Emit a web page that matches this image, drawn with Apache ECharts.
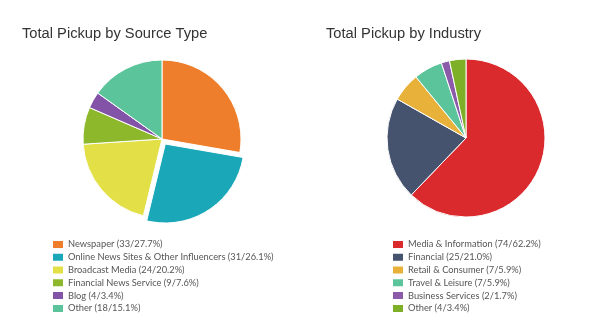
<!DOCTYPE html>
<html><head><meta charset="utf-8">
<script src="https://cdn.jsdelivr.net/npm/echarts@6/dist/echarts.min.js"></script>
<style>html,body{margin:0;padding:0;background:#fff}#c{width:600px;height:325px}</style>
</head><body><div id="c"></div>
<script>
const sourceNames = ["Newspaper","Online News Sites & Other Influencers","Broadcast Media","Financial News Service","Blog","Other"];
const sourceValues = [33,31,24,9,4,18];
const sourceColors = ["#EE7E2B","#1AA8B9","#E3DF47","#8DB82B","#8353A8","#5CC49A"];
const industryNames = ["Media & Information","Financial","Retail & Consumer","Travel & Leisure","Business Services","Other"];
const industryValues = [74,25,7,7,2,4];
const industryColors = ["#DA2A2E","#46536E","#E8B23A","#5CC49A","#8B5BAA","#7DB026"];

function fmtFactory(names, values){
  const total = values.reduce((a,b)=>a+b,0);
  return function(name){
    const i = names.indexOf(name);
    return name + ' (' + values[i] + '/' + (values[i]/total*100).toFixed(1) + '%)';
  };
}
const chart = echarts.init(document.getElementById('c'));
const font = 'Lato, sans-serif';
const legendBase = {orient:'vertical',top:238,height:90,padding:0,itemWidth:12,itemHeight:9,itemGap:0,icon:'rect',selectedMode:false,
  textStyle:{fontFamily:font,fontSize:9.3,color:'#555',lineHeight:12.8,padding:[0,0,0,-1]}};
chart.setOption({
  animation:false,
  title:[
    {text:'Total Pickup by Source Type',left:17,top:21,textStyle:{fontFamily:'"Liberation Sans", Arial',fontSize:14.7,fontWeight:'normal',color:'#333'}},
    {text:'Total Pickup by Industry',left:321,top:21,textStyle:{fontFamily:'"Liberation Sans", Arial',fontSize:14.7,fontWeight:'normal',color:'#333'}}
  ],
  legend:[
    Object.assign({}, legendBase, {left:51,
     data:sourceNames.map((n,i)=>({name:n,itemStyle:{color:sourceColors[i]}})),
     formatter:fmtFactory(sourceNames,sourceValues)}),
    Object.assign({}, legendBase, {left:391,
     data:industryNames.map((n,i)=>({name:n,itemStyle:{color:industryColors[i]}})),
     formatter:fmtFactory(industryNames,industryValues)})
  ],
  series:[
    {type:'pie',center:[162,139],radius:[0,79],startAngle:90,clockwise:true,label:{show:false},labelLine:{show:false},
     selectedMode:'multiple',selectedOffset:6,emphasis:{disabled:true},
     itemStyle:{borderColor:'#fff',borderWidth:1},
     data:sourceNames.map((n,i)=>({name:n,value:sourceValues[i],selected:i===1,itemStyle:{color:sourceColors[i]}}))},
    {type:'pie',center:[466,138],radius:[0,79],startAngle:90,clockwise:true,label:{show:false},labelLine:{show:false},
     emphasis:{disabled:true},
     itemStyle:{borderColor:'#fff',borderWidth:1},
     data:industryNames.map((n,i)=>({name:n,value:industryValues[i],itemStyle:{color:industryColors[i]}}))}
  ]
});
</script></body></html>
